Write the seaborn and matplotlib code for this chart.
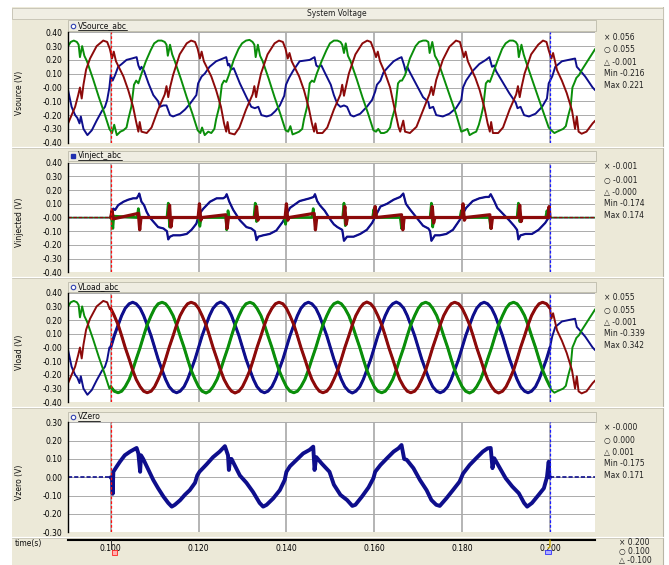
import numpy as np
import matplotlib
matplotlib.use("Agg")
import matplotlib.pyplot as plt
import seaborn as sns
from matplotlib.patches import Rectangle
from matplotlib.lines import Line2D

# ---------------- data (time in ms, values in V) ----------------
src_blue = [(90.3, -0.02), (91.1, -0.14), (91.9, -0.20), (92.4, -0.22), (92.9, -0.26), (93.2, -0.21), (93.8, -0.30),
            (94.7, -0.345), (95.7, -0.31), (96.8, -0.24), (98.0, -0.17), (98.7, -0.14), (99.2, -0.09), (99.7, 0.0),
            (100.0, 0.09), (100.45, 0.05), (101.0, 0.09), (101.7, 0.15), (102.5, 0.17), (103.6, 0.20), (104.8, 0.21),
            (105.9, 0.22), (106.3, 0.16), (106.7, 0.13), (107.0, 0.15), (107.6, 0.12), (108.6, 0.03), (109.7, -0.055),
            (110.8, -0.10), (111.2, -0.14), (112.0, -0.13), (112.7, -0.13), (113.5, -0.20), (114.2, -0.21), (115.8, -0.19),
            (116.9, -0.16), (118.0, -0.12), (119.5, -0.055), (119.9, 0.03), (120.7, 0.08), (121.4, 0.10), (122.5, 0.15),
            (124.0, 0.19), (125.5, 0.21), (126.3, 0.22), (126.7, 0.16), (127.0, 0.17), (127.4, 0.13), (128.0, 0.14),
            (129.4, 0.03), (130.9, -0.07), (132.0, -0.14), (132.8, -0.15), (133.6, -0.14), (134.3, -0.20), (135.5, -0.21),
            (136.5, -0.20), (137.5, -0.17), (138.5, -0.13), (139.5, -0.06), (139.9, 0.02), (140.6, 0.07), (141.5, 0.12),
            (143.0, 0.19), (145.3, 0.20), (146.4, 0.22), (146.8, 0.16), (147.2, 0.15), (147.95, 0.16), (148.7, 0.11),
            (150.1, 0.02), (150.8, -0.055), (151.6, -0.12), (152.3, -0.14), (153.1, -0.13), (153.8, -0.14), (154.6, -0.20),
            (155.3, -0.21), (156.8, -0.19), (158.3, -0.14), (159.5, -0.09), (160.2, -0.03), (160.6, 0.02), (161.4, 0.05),
            (162.1, 0.11), (163.2, 0.15), (164.4, 0.19), (165.5, 0.21), (166.2, 0.22), (166.8, 0.16), (167.2, 0.11),
            (167.5, 0.15), (168.1, 0.11), (169.6, 0.02), (171.1, -0.07), (172.3, -0.105), (172.6, -0.15), (173.4, -0.14),
            (174.1, -0.20), (175.6, -0.21), (177.1, -0.19), (178.6, -0.15), (179.8, -0.09), (180.2, 0.0), (180.9, 0.05),
            (182.4, 0.12), (183.9, 0.17), (185.4, 0.20), (186.2, 0.22), (186.8, 0.15), (187.3, 0.16), (187.7, 0.12),
            (189.2, 0.04), (190.7, -0.04), (192.2, -0.11), (192.6, -0.15), (193.3, -0.14), (194.1, -0.20), (195.2, -0.21),
            (196.7, -0.19), (198.2, -0.14), (199.3, -0.08), (199.7, 0.03), (200.5, 0.08), (201.2, 0.15), (202.7, 0.19),
            (204.2, 0.20), (205.7, 0.21), (206.1, 0.15), (206.8, 0.125), (208.0, 0.08), (209.7, 0.0), (210.3, -0.02)]

src_green = [(90.3, 0.30), (90.9, 0.33), (91.6, 0.34), (92.3, 0.33), (92.7, 0.31), (93.0, 0.22), (93.5, 0.30),
             (94.0, 0.23), (94.6, 0.19), (96.0, 0.06), (97.3, -0.07), (98.6, -0.19), (99.7, -0.30), (100.3, -0.33),
             (100.8, -0.27), (101.4, -0.345), (102.2, -0.32), (102.9, -0.31), (103.6, -0.29), (104.0, -0.23),
             (104.7, -0.14), (105.3, 0.02), (105.8, 0.05), (106.3, 0.03), (106.9, 0.09), (108.0, 0.19), (109.1, 0.27),
             (109.9, 0.32), (110.8, 0.34), (111.6, 0.34), (112.3, 0.33), (112.7, 0.31), (113.0, 0.23), (113.5, 0.31),
             (114.0, 0.24), (114.6, 0.19), (116.0, 0.06), (117.3, -0.07), (118.6, -0.19), (119.8, -0.31), (120.4, -0.33),
             (120.8, -0.29), (121.4, -0.345), (122.2, -0.32), (122.9, -0.33), (123.6, -0.30), (124.0, -0.23),
             (124.7, -0.14), (125.3, 0.02), (125.8, 0.05), (126.3, 0.04), (126.9, 0.09), (128.0, 0.20), (129.1, 0.28),
             (129.9, 0.32), (130.8, 0.34), (131.6, 0.345), (132.3, 0.33), (132.7, 0.31), (133.0, 0.22), (133.5, 0.31),
             (134.0, 0.23), (134.6, 0.19), (136.0, 0.06), (137.3, -0.07), (138.6, -0.19), (139.8, -0.31), (140.4, -0.32),
             (140.9, -0.28), (141.4, -0.34), (142.2, -0.33), (142.9, -0.32), (143.6, -0.30), (144.0, -0.23),
             (144.7, -0.14), (145.3, 0.03), (145.8, 0.05), (146.3, 0.04), (146.9, 0.10), (148.0, 0.19), (149.1, 0.27),
             (149.9, 0.32), (150.8, 0.34), (151.6, 0.34), (152.3, 0.33), (152.7, 0.31), (153.1, 0.25), (153.5, 0.32),
             (154.0, 0.23), (154.6, 0.19), (156.0, 0.06), (157.3, -0.07), (158.6, -0.19), (159.8, -0.31), (160.4, -0.32),
             (160.9, -0.30), (161.5, -0.33), (162.2, -0.33), (162.9, -0.32), (163.6, -0.29), (164.0, -0.23),
             (164.8, -0.14), (165.4, 0.03), (165.9, 0.05), (166.3, 0.05), (167.0, 0.09), (168.1, 0.21), (169.4, 0.30),
             (170.2, 0.33), (171.1, 0.34), (171.8, 0.34), (172.3, 0.33), (172.6, 0.25), (173.2, 0.33), (173.8, 0.23),
             (174.5, 0.19), (176.0, 0.05), (177.3, -0.07), (178.6, -0.19), (179.8, -0.32), (180.6, -0.31), (181.2, -0.30),
             (181.7, -0.345), (182.5, -0.33), (183.2, -0.32), (183.8, -0.27), (184.3, -0.21), (184.8, -0.14), (185.4, 0.03),
             (185.9, 0.05), (186.3, 0.04), (186.9, 0.09), (188.0, 0.19), (189.1, 0.28), (189.9, 0.32), (190.8, 0.34),
             (191.6, 0.34), (192.2, 0.33), (192.6, 0.31), (192.9, 0.22), (193.5, 0.31), (194.0, 0.24), (194.5, 0.19),
             (196.0, 0.05), (197.3, -0.07), (198.6, -0.19), (199.7, -0.29), (200.3, -0.31), (201.0, -0.33), (201.6, -0.32),
             (202.3, -0.31), (203.0, -0.30), (203.6, -0.28), (204.1, -0.21), (204.7, -0.14), (205.1, 0.0), (205.5, 0.03),
             (206.0, 0.07), (206.6, 0.09), (207.3, 0.13), (208.5, 0.19), (210.3, 0.28)]

src_red = [(90.3, -0.26), (91.1, -0.20), (91.9, -0.14), (92.6, -0.055), (93.0, 0.0), (93.4, -0.08), (93.8, 0.02),
           (94.4, 0.13), (95.3, 0.21), (96.8, 0.30), (98.3, 0.34), (99.2, 0.33), (99.8, 0.28), (100.3, 0.21),
           (100.7, 0.26), (101.2, 0.19), (102.9, 0.08), (104.0, -0.02), (105.1, -0.14), (105.8, -0.25), (106.3, -0.32),
           (106.6, -0.25), (107.0, -0.32), (108.2, -0.33), (109.3, -0.29), (110.8, -0.16), (112.3, -0.05), (112.7, 0.01),
           (113.1, -0.07), (113.5, 0.0), (114.2, 0.09), (115.7, 0.24), (117.3, 0.32), (118.3, 0.34), (119.2, 0.33),
           (119.8, 0.28), (120.3, 0.21), (120.7, 0.26), (121.2, 0.19), (122.9, 0.08), (124.0, -0.02), (125.1, -0.14),
           (125.8, -0.26), (126.3, -0.32), (126.6, -0.25), (127.0, -0.33), (128.2, -0.34), (129.3, -0.29), (130.8, -0.16),
           (132.3, -0.05), (132.7, 0.01), (133.1, -0.07), (133.5, 0.0), (134.2, 0.10), (135.7, 0.24), (137.3, 0.32),
           (138.3, 0.34), (139.2, 0.33), (139.8, 0.28), (140.3, 0.21), (140.7, 0.25), (141.2, 0.19), (142.9, 0.08),
           (144.0, -0.02), (145.1, -0.15), (145.8, -0.26), (146.3, -0.32), (146.6, -0.26), (147.0, -0.33), (148.2, -0.33),
           (149.3, -0.29), (150.8, -0.16), (152.3, -0.05), (152.7, 0.02), (153.1, -0.06), (153.5, 0.0), (154.2, 0.10),
           (155.7, 0.24), (157.3, 0.32), (158.4, 0.34), (159.2, 0.33), (159.8, 0.28), (160.4, 0.22), (160.8, 0.26),
           (161.3, 0.19), (162.5, 0.10), (163.6, 0.0), (164.7, -0.165), (165.5, -0.285), (165.9, -0.32), (166.6, -0.24),
           (167.0, -0.32), (168.1, -0.33), (169.6, -0.285), (171.1, -0.165), (172.6, -0.045), (173.0, 0.005),
           (173.4, -0.055), (174.1, 0.055), (175.6, 0.20), (177.1, 0.295), (178.6, 0.34), (179.5, 0.33), (180.0, 0.27),
           (180.4, 0.22), (180.8, 0.26), (181.3, 0.19), (183.0, 0.07), (184.0, -0.02), (185.1, -0.15), (185.8, -0.26),
           (186.3, -0.32), (186.6, -0.25), (187.0, -0.33), (188.2, -0.33), (189.3, -0.29), (190.8, -0.16), (192.3, -0.05),
           (192.7, 0.01), (193.1, -0.07), (193.5, 0.0), (194.2, 0.10), (195.7, 0.24), (197.3, 0.31), (198.4, 0.34),
           (199.2, 0.33), (199.7, 0.27), (200.3, 0.21), (200.7, 0.25), (201.6, 0.125), (202.7, 0.05), (203.8, -0.04),
           (205.0, -0.165), (205.7, -0.30), (206.1, -0.21), (206.5, -0.32), (207.2, -0.335), (208.3, -0.32),
           (209.7, -0.26), (210.3, -0.24)]

# compensated load voltage between the two cursors (0.100 s .. 0.200 s), read every 15 degrees
load_t = [100.0, 100.8, 101.7, 102.5, 103.3, 104.2, 105.0, 105.8, 106.7, 107.5, 108.3, 109.2,
          110.0, 110.8, 111.7, 112.5, 113.3, 114.2, 115.0, 115.8, 116.7, 117.5, 118.3, 119.2,
          120.0, 120.8, 121.7, 122.5, 123.3, 124.2, 125.0, 125.8, 126.7, 127.5, 128.3, 129.2,
          130.0, 130.8, 131.7, 132.5, 133.3, 134.2, 135.0, 135.8, 136.7, 137.5, 138.3, 139.2,
          140.0, 140.8, 141.7, 142.5, 143.3, 144.2, 145.0, 145.8, 146.7, 147.5, 148.3, 149.2,
          150.0, 150.8, 151.7, 152.5, 153.3, 154.2, 155.0, 155.8, 156.7, 157.5, 158.3, 159.2,
          160.0, 160.8, 161.7, 162.5, 163.3, 164.2, 165.0, 165.8, 166.7, 167.5, 168.3, 169.2,
          170.0, 170.8, 171.7, 172.5, 173.3, 174.2, 175.0, 175.8, 176.7, 177.5, 178.3, 179.2,
          180.0, 180.8, 181.7, 182.5, 183.3, 184.2, 185.0, 185.8, 186.7, 187.5, 188.3, 189.2,
          190.0, 190.8, 191.7, 192.5, 193.3, 194.2, 195.0, 195.8, 196.7, 197.5, 198.3, 199.2,
          200.0]
load_blue = [0.0, 0.085, 0.165, 0.233, 0.286, 0.319, 0.33, 0.319, 0.286, 0.233, 0.165, 0.085,
             0.0, -0.085, -0.165, -0.233, -0.286, -0.319, -0.33, -0.319, -0.286, -0.233, -0.165, -0.085,
             0.0, 0.085, 0.165, 0.233, 0.286, 0.319, 0.332, 0.319, 0.286, 0.233, 0.165, 0.085,
             0.0, -0.085, -0.165, -0.233, -0.286, -0.319, -0.33, -0.319, -0.286, -0.233, -0.165, -0.085,
             0.0, 0.085, 0.165, 0.233, 0.286, 0.319, 0.33, 0.319, 0.286, 0.233, 0.165, 0.085,
             0.0, -0.085, -0.165, -0.233, -0.286, -0.319, -0.332, -0.319, -0.286, -0.233, -0.165, -0.085,
             0.0, 0.085, 0.165, 0.233, 0.286, 0.319, 0.332, 0.319, 0.286, 0.233, 0.165, 0.085,
             0.0, -0.085, -0.165, -0.233, -0.286, -0.319, -0.33, -0.319, -0.286, -0.233, -0.165, -0.085,
             0.0, 0.085, 0.165, 0.233, 0.286, 0.319, 0.33, 0.319, 0.286, 0.233, 0.165, 0.085,
             0.0, -0.085, -0.165, -0.233, -0.286, -0.319, -0.33, -0.319, -0.286, -0.233, -0.165, -0.085,
             0.0]
load_green = [-0.286, -0.319, -0.33, -0.319, -0.286, -0.233, -0.165, -0.085, 0.0, 0.085, 0.165, 0.233,
              0.286, 0.319, 0.33, 0.319, 0.286, 0.233, 0.165, 0.085, 0.0, -0.085, -0.165, -0.233,
              -0.286, -0.319, -0.332, -0.319, -0.286, -0.233, -0.165, -0.085, 0.0, 0.085, 0.165, 0.233,
              0.286, 0.319, 0.33, 0.319, 0.286, 0.233, 0.165, 0.085, 0.0, -0.085, -0.165, -0.233,
              -0.286, -0.319, -0.33, -0.319, -0.286, -0.233, -0.165, -0.085, 0.0, 0.085, 0.165, 0.233,
              0.286, 0.319, 0.332, 0.319, 0.286, 0.233, 0.165, 0.085, 0.0, -0.085, -0.165, -0.233,
              -0.286, -0.319, -0.33, -0.319, -0.286, -0.233, -0.165, -0.085, 0.0, 0.085, 0.165, 0.233,
              0.286, 0.319, 0.33, 0.319, 0.286, 0.233, 0.165, 0.085, 0.0, -0.085, -0.165, -0.233,
              -0.286, -0.319, -0.332, -0.319, -0.286, -0.233, -0.165, -0.085, 0.0, 0.085, 0.165, 0.233,
              0.286, 0.319, 0.33, 0.319, 0.286, 0.233, 0.165, 0.085, 0.0, -0.085, -0.165, -0.233,
              -0.286]
load_red = [0.286, 0.233, 0.165, 0.085, 0.0, -0.085, -0.165, -0.233, -0.286, -0.319, -0.33, -0.319,
            -0.286, -0.233, -0.165, -0.085, 0.0, 0.085, 0.165, 0.233, 0.286, 0.319, 0.33, 0.319,
            0.286, 0.233, 0.165, 0.085, 0.0, -0.085, -0.165, -0.233, -0.286, -0.319, -0.332, -0.319,
            -0.286, -0.233, -0.165, -0.085, 0.0, 0.085, 0.165, 0.233, 0.286, 0.319, 0.33, 0.319,
            0.286, 0.233, 0.165, 0.085, 0.0, -0.085, -0.165, -0.233, -0.286, -0.319, -0.33, -0.319,
            -0.286, -0.233, -0.165, -0.085, 0.0, 0.085, 0.165, 0.233, 0.286, 0.319, 0.332, 0.319,
            0.286, 0.233, 0.165, 0.085, 0.0, -0.085, -0.165, -0.233, -0.286, -0.319, -0.33, -0.319,
            -0.286, -0.233, -0.165, -0.085, 0.0, 0.085, 0.165, 0.233, 0.286, 0.319, 0.33, 0.319,
            0.286, 0.233, 0.165, 0.085, 0.0, -0.085, -0.165, -0.233, -0.286, -0.319, -0.332, -0.319,
            -0.286, -0.233, -0.165, -0.085, 0.0, 0.085, 0.165, 0.233, 0.286, 0.319, 0.33, 0.319,
            0.286]

inj_blue = [(90.3, 0.0), (100.0, 0.0), (100.2, 0.04), (100.6, 0.065), (101.0, 0.055), (101.7, 0.09), (102.9, 0.115),
            (104.0, 0.13), (105.1, 0.14), (105.9, 0.14), (106.3, 0.16), (106.5, 0.175), (107.0, 0.115), (107.6, 0.09),
            (108.2, 0.04), (108.9, 0.0), (109.7, -0.03), (110.8, -0.07), (112.0, -0.08), (112.8, -0.10), (113.1, -0.16),
            (113.5, -0.14), (114.2, -0.13), (115.8, -0.13), (117.3, -0.12), (118.4, -0.09), (119.5, -0.045), (119.9, 0.0),
            (120.5, 0.04), (121.1, 0.065), (122.6, 0.115), (124.1, 0.14), (125.6, 0.14), (126.1, 0.15), (126.4, 0.17),
            (127.0, 0.115), (127.9, 0.055), (129.4, -0.02), (130.9, -0.07), (132.0, -0.08), (132.8, -0.10),
            (133.2, -0.165), (133.6, -0.14), (134.7, -0.13), (136.2, -0.12), (137.7, -0.095), (139.2, -0.03),
            (140.0, 0.02), (140.8, 0.07), (143.0, 0.12), (145.3, 0.14), (146.2, 0.15), (146.5, 0.17), (147.0, 0.12),
            (147.6, 0.09), (148.7, 0.05), (150.1, -0.02), (150.8, -0.05), (151.6, -0.07), (152.7, -0.09), (153.1, -0.17),
            (153.8, -0.14), (155.3, -0.14), (156.8, -0.12), (158.3, -0.09), (159.5, -0.04), (160.6, 0.03), (161.4, 0.08),
            (162.9, 0.10), (164.4, 0.13), (165.9, 0.15), (166.6, 0.175), (167.2, 0.10), (168.1, 0.06), (169.6, 0.0),
            (171.1, -0.06), (172.3, -0.08), (172.7, -0.10), (173.0, -0.17), (173.8, -0.13), (174.9, -0.13),
            (176.4, -0.12), (177.9, -0.09), (179.4, -0.02), (180.2, 0.03), (180.9, 0.07), (182.4, 0.12), (183.9, 0.14),
            (185.4, 0.15), (186.1, 0.15), (186.5, 0.17), (187.3, 0.12), (188.0, 0.07), (189.2, 0.03), (190.7, -0.02),
            (191.8, -0.06), (192.5, -0.09), (192.8, -0.16), (193.3, -0.13), (194.4, -0.12), (195.9, -0.12),
            (197.4, -0.09), (198.9, -0.04), (199.7, 0.0), (200.0, 0.0), (210.3, 0.0)]

inj_green = [(90.3, 0.0), (100.0, 0.0), (100.3, -0.02), (100.5, -0.08), (100.7, 0.01), (106.0, 0.0), (106.3, 0.065),
             (106.6, 0.0), (112.8, 0.0), (113.1, 0.105), (113.4, -0.07), (113.7, 0.0), (120.0, 0.0), (120.3, -0.065),
             (120.6, 0.0), (126.2, 0.0), (126.4, -0.09), (126.7, 0.05), (127.0, 0.0), (132.6, 0.0), (132.9, 0.105),
             (133.2, -0.03), (133.5, 0.0), (139.5, 0.0), (139.8, -0.05), (140.1, 0.0), (145.8, 0.0), (146.1, 0.065),
             (146.4, 0.0), (152.8, 0.0), (153.1, 0.105), (153.4, -0.06), (153.7, 0.0), (159.6, 0.0), (159.9, 0.06),
             (160.2, 0.0), (165.9, 0.0), (166.2, -0.08), (166.5, 0.0), (172.7, 0.0), (173.0, 0.105), (173.3, -0.07),
             (173.6, 0.0), (179.5, 0.0), (179.8, 0.05), (180.1, 0.0), (186.2, 0.0), (186.5, -0.08), (186.8, 0.0),
             (192.5, 0.0), (192.8, 0.105), (193.1, -0.03), (193.4, 0.0), (199.0, 0.0), (199.3, 0.05), (199.6, 0.0),
             (200.0, 0.0), (210.3, 0.0)]

inj_red = [(90.3, 0.0), (100.0, 0.0), (100.3, 0.05), (100.6, -0.01), (106.3, 0.03), (106.6, -0.09), (106.9, 0.0),
           (113.1, 0.0), (113.4, 0.09), (113.7, -0.07), (114.0, 0.0), (119.9, 0.0), (120.2, 0.10), (120.5, -0.02),
           (120.8, 0.0), (126.2, 0.02), (126.5, -0.08), (126.8, 0.0), (132.9, 0.0), (133.2, 0.08), (133.5, -0.02),
           (133.8, 0.0), (139.7, 0.0), (140.0, 0.10), (140.3, -0.02), (140.6, 0.0), (146.3, 0.03), (146.6, -0.09),
           (146.9, 0.0), (153.0, 0.0), (153.3, 0.08), (153.6, -0.05), (153.9, 0.0), (159.9, 0.0), (160.2, 0.08),
           (160.5, 0.0), (166.2, 0.02), (166.5, -0.09), (166.8, 0.0), (172.9, 0.0), (173.2, 0.08), (173.5, -0.04),
           (173.8, 0.0), (179.9, 0.0), (180.2, 0.10), (180.5, -0.02), (180.8, 0.0), (186.3, 0.02), (186.6, -0.08),
           (186.9, 0.0), (192.8, 0.0), (193.1, 0.09), (193.4, -0.03), (193.7, 0.0), (199.5, 0.0), (199.8, 0.08),
           (200.0, 0.0), (210.3, 0.0)]

vzero = [(90.3, 0.0), (100.0, 0.0), (100.3, -0.01), (100.45, -0.09), (100.6, 0.03), (101.4, 0.06), (102.1, 0.085),
         (103.2, 0.12), (104.4, 0.14), (105.5, 0.155), (105.9, 0.16), (106.3, 0.13), (106.7, 0.03), (106.9, 0.12),
         (107.4, 0.10), (108.6, 0.04), (109.7, -0.015), (110.8, -0.06), (112.0, -0.105), (113.1, -0.14),
         (113.9, -0.16), (114.6, -0.15), (115.8, -0.125), (116.9, -0.095), (118.0, -0.07), (119.2, -0.03),
         (119.7, 0.01), (120.2, 0.03), (121.8, 0.07), (123.3, 0.11), (124.8, 0.14), (126.0, 0.17), (126.7, 0.12),
         (126.9, 0.04), (127.2, 0.10), (127.5, 0.10), (129.4, 0.01), (130.9, -0.03), (132.4, -0.08), (133.9, -0.14),
         (134.7, -0.16), (135.5, -0.15), (137.0, -0.115), (138.5, -0.07), (139.6, -0.015), (140.0, 0.03),
         (140.8, 0.06), (142.3, 0.095), (143.8, 0.13), (145.3, 0.15), (146.1, 0.167), (146.4, 0.04), (146.8, 0.11),
         (148.0, 0.076), (149.8, 0.03), (150.8, -0.04), (152.3, -0.096), (153.8, -0.124), (155.0, -0.156),
         (155.7, -0.15), (157.2, -0.105), (158.7, -0.055), (159.8, -0.005), (160.2, 0.03), (161.4, 0.067),
         (162.9, 0.104), (164.4, 0.14), (165.5, 0.158), (166.2, 0.176), (166.8, 0.10), (167.4, 0.095), (168.9, 0.05),
         (170.4, -0.015), (171.9, -0.07), (173.0, -0.124), (174.1, -0.15), (174.9, -0.156), (176.4, -0.115),
         (177.9, -0.07), (179.4, -0.024), (180.2, 0.02), (181.7, 0.067), (183.2, 0.104), (184.7, 0.14),
         (185.8, 0.158), (186.5, 0.16), (186.9, 0.05), (187.3, 0.104), (188.4, 0.058), (189.9, -0.005),
         (191.4, -0.05), (192.9, -0.087), (194.1, -0.14), (194.8, -0.16), (195.9, -0.14), (197.4, -0.096),
         (198.6, -0.06), (199.3, 0.0), (199.7, 0.085), (199.85, 0.0), (200.0, 0.0), (210.3, 0.0)]

x_ticks = [0.100, 0.120, 0.140, 0.160, 0.180, 0.200]
x_tick_labels = ["0.100", "0.120", "0.140", "0.160", "0.180", "0.200"]
cursor_a, cursor_b = 0.100, 0.200

panel_names = ["VSource_abc", "Vinject_abc", "VLoad_abc", "VZero"]
panel_ylabels = ["Vsource (V)", "Vinjected (V)", "Vload (V)", "Vzero (V)"]
panel_info = [["\u00d7 0.056", "\u25cb 0.055", "\u25b3 -0.001", "Min -0.216", "Max 0.221"],
              ["\u00d7 -0.001", "\u25cb -0.001", "\u25b3 -0.000", "Min -0.174", "Max 0.174"],
              ["\u00d7 0.055", "\u25cb 0.055", "\u25b3 -0.001", "Min -0.339", "Max 0.342"],
              ["\u00d7 -0.000", "\u25cb 0.000", "\u25b3 0.001", "Min -0.175", "Max 0.171"]]
time_info = ["\u00d7 0.200", "\u25cb 0.100", "\u25b3 -0.100"]
y_limits = [0.40, 0.40, 0.40, 0.30]

# ---------------- styling ----------------
sns.set_theme(style="white")
plt.rcParams['font.family'] = ['DejaVu Sans']

BLUE, GREEN, RED = '#0E0E8C', '#0A8E0A', '#8C0A0A'
BEIGE = '#ECE9D8'
FS = 5.5
W, H = 669, 565
fig = plt.figure(figsize=(W / 100, H / 100), dpi=100)
fig.patch.set_facecolor('white')


def fx(x):
    return x / W


def fy(y):
    return 1 - y / H


def frect(x0, y0, x1, y1, **kw):
    r = Rectangle((fx(x0), fy(y1)), (x1 - x0) / W, (y1 - y0) / H, transform=fig.transFigure, **kw)
    fig.add_artist(r)
    return r


def fline(xs, ys, **kw):
    l = Line2D([fx(v) for v in xs], [fy(v) for v in ys], transform=fig.transFigure, **kw)
    fig.add_artist(l)
    return l


# window background and title bar
frect(12, 7, 663, 565, facecolor=BEIGE, edgecolor='none', zorder=-10)
fline([663, 663], [7, 565], color='#B8B5A6', lw=0.8, zorder=-9)
frect(12, 7.5, 663, 19, facecolor='#F0EEE4', edgecolor='#C4C1B2', lw=0.6, zorder=-9)
fig.text(fx(337), fy(13.2), "System Voltage", fontsize=FS, ha='center', va='center', color='#202020')

# separators between graph panels
for ys in [146.5, 276.5, 406.5, 536.5]:
    fline([12, 663], [ys, ys], color='#FFFFFF', lw=0.9, zorder=-8)
    fline([12, 663], [ys + 1, ys + 1], color='#C8C5B6', lw=0.6, zorder=-8)

plot_tops = [32.3, 162.7, 292.7, 422.3]
plot_bots = [142.7, 272.3, 402.3, 532.3]
hdr_spans = [(20, 31), (151, 161), (281.5, 291.5), (411.5, 421.5)]
info_rows = [[37, 49.5, 62, 73.5, 86], [167, 180, 192, 203.5, 216],
             [297, 310, 322, 333.5, 346], [428, 440, 452, 463.5, 476]]

XL = (0.09028, 0.21024)


def arr(pairs):
    a = np.array(pairs, dtype=float)
    return a[:, 0] / 1000.0, a[:, 1]


def part(pairs, lo, hi):
    return [p for p in pairs if lo <= p[0] <= hi]


def draw(ax, pairs, color, lw, ls='-', z=2):
    t, v = arr(pairs)
    sns.lineplot(x=t, y=v, ax=ax, color=color, linewidth=lw, linestyle=ls,
                 sort=False, estimator=None, legend=False, zorder=z)


axes = []
header_texts = []
for i in range(4):
    top, bot = plot_tops[i], plot_bots[i]
    ax = fig.add_axes([fx(68), fy(bot), (595 - 68) / W, (bot - top) / H])
    ax.set_facecolor('white')
    lim = y_limits[i]
    ax.set_xlim(*XL)
    ax.set_ylim(-lim, lim)
    ticks = np.round(np.arange(-lim, lim + 0.001, 0.1), 2)
    ax.set_yticks(ticks)
    ax.set_yticklabels([f"{t:.2f}" for t in ticks], fontsize=FS)
    ax.set_xticks(x_ticks)
    ax.tick_params(axis='x', length=0, labelbottom=False)
    ax.tick_params(axis='y', direction='out', length=2.2, width=0.7, pad=2.0, colors='black')
    ax.grid(axis='y', color='#ABABAB', lw=0.7)
    ax.grid(axis='x', color='#A0A0A0', lw=1.1)
    ax.set_axisbelow(True)
    for s in ['top', 'right', 'bottom']:
        ax.spines[s].set_visible(False)
    ax.spines['left'].set_color('black')
    ax.spines['left'].set_linewidth(1.0)
    ax.set_xlabel('')
    ax.set_ylabel('')
    axes.append(ax)

    # header strip with channel name
    h0, h1 = hdr_spans[i]
    frect(68, h0, 596, h1, facecolor='#EFEDE2', edgecolor='#BDBAAA', lw=0.6, zorder=-7)
    yc = (h0 + h1) / 2
    if i == 1:
        fline([72.5], [yc], marker='s', ms=2.6, mfc='#2030B0', mec='#2030B0', lw=0)
    else:
        fline([72.5], [yc], marker='o', ms=3.2, mfc='white', mec='#3040B0', mew=0.8, lw=0)
    header_texts.append(fig.text(fx(77.5), fy(yc), panel_names[i], fontsize=FS, ha='left',
                                 va='center', color='#101010'))

    # y label
    fig.text(fx(19.5), fy((top + bot) / 2 + 5), panel_ylabels[i], rotation=90, fontsize=FS,
             ha='center', va='center', color='#101010')

    # cursor info
    for txt, yy in zip(panel_info[i], info_rows[i]):
        fig.text(fx(604), fy(yy), txt, fontsize=FS, ha='left', va='center', color='#202020')

    # cursors
    ax.axvline(cursor_a, color='#FF1010', lw=0.9, ls=(0, (2.2, 1.6)), zorder=6)
    ax.axvline(cursor_b, color='#1A1AFF', lw=0.9, ls=(0, (2.2, 1.6)), zorder=6)

# ---- panel 1: source voltages
ax = axes[0]
draw(ax, src_blue, BLUE, 1.4)
draw(ax, src_green, GREEN, 1.4)
draw(ax, src_red, RED, 1.4)

# ---- panel 2: injected voltages
ax = axes[1]
draw(ax, inj_blue, BLUE, 0.9)
draw(ax, part(inj_blue, 100.0, 200.0), BLUE, 1.6)
draw(ax, inj_green, GREEN, 0.9)
draw(ax, part(inj_green, 100.0, 200.0), GREEN, 1.9)
draw(ax, inj_red, RED, 0.9, ls=(0, (3, 1.2)))
draw(ax, part(inj_red, 100.0, 200.0), RED, 2.3)

# ---- panel 3: load voltages (source outside the compensation window)
ax = axes[2]
for src, mid, col in [(src_blue, load_blue, BLUE), (src_green, load_green, GREEN), (src_red, load_red, RED)]:
    mid_pairs = list(zip(load_t, mid))
    full = part(src, 0, 99.99) + mid_pairs + part(src, 200.01, 300)
    draw(ax, full, col, 1.4)
    draw(ax, mid_pairs, col, 2.2)

# ---- panel 4: zero-sequence voltage
ax = axes[3]
draw(ax, part(vzero, 0, 100.0), BLUE, 1.2, ls=(0, (2.5, 1.2)))
draw(ax, part(vzero, 200.0, 300), BLUE, 1.2, ls=(0, (2.5, 1.2)))
draw(ax, part(vzero, 100.0, 200.0), BLUE, 2.8)

# ---- time axis
axt = fig.add_axes([fx(68), fy(540), (595 - 68) / W, 1.0 / H])
axt.set_facecolor('none')
axt.set_xlim(*XL)
axt.set_ylim(0, 1)
axt.set_yticks([])
axt.set_xticks(x_ticks)
axt.set_xticklabels(x_tick_labels, fontsize=FS)
axt.tick_params(axis='x', length=0, pad=3.0, colors='black')
for s in ['top', 'left', 'right']:
    axt.spines[s].set_visible(False)
axt.spines['bottom'].set_color('black')
axt.spines['bottom'].set_linewidth(1.5)

fig.text(fx(15), fy(543.5), "time(s)", fontsize=FS, ha='left', va='center', color='#101010')
for txt, yy in zip(time_info, [542.5, 551.5, 560.5]):
    fig.text(fx(619), fy(yy), txt, fontsize=FS, ha='left', va='center', color='#202020')

# cursor flags below the time axis
frect(111.5, 549.5, 116.5, 555, facecolor='#FFB0B0', edgecolor='#FF2020', lw=0.6)
frect(545, 549.5, 551, 553.5, facecolor='#B0B0FF', edgecolor='#3030FF', lw=0.6)
fline([110.7, 110.7], [540, 549], color='#303030', lw=0.7)
fline([550, 550, 548], [540, 547, 548], color='#D0B000', lw=0.9)

# underline the channel names (hyperlink style)
fig.canvas.draw()
rend = fig.canvas.get_renderer()
for t in header_texts:
    bb = t.get_window_extent(rend)
    y_ul = bb.y0 + 0.5
    fig.add_artist(Line2D([bb.x0 / W, bb.x1 / W], [y_ul / H, y_ul / H], transform=fig.transFigure,
                          color='#101010', lw=0.6))

fig.savefig('out.png', dpi=100)
